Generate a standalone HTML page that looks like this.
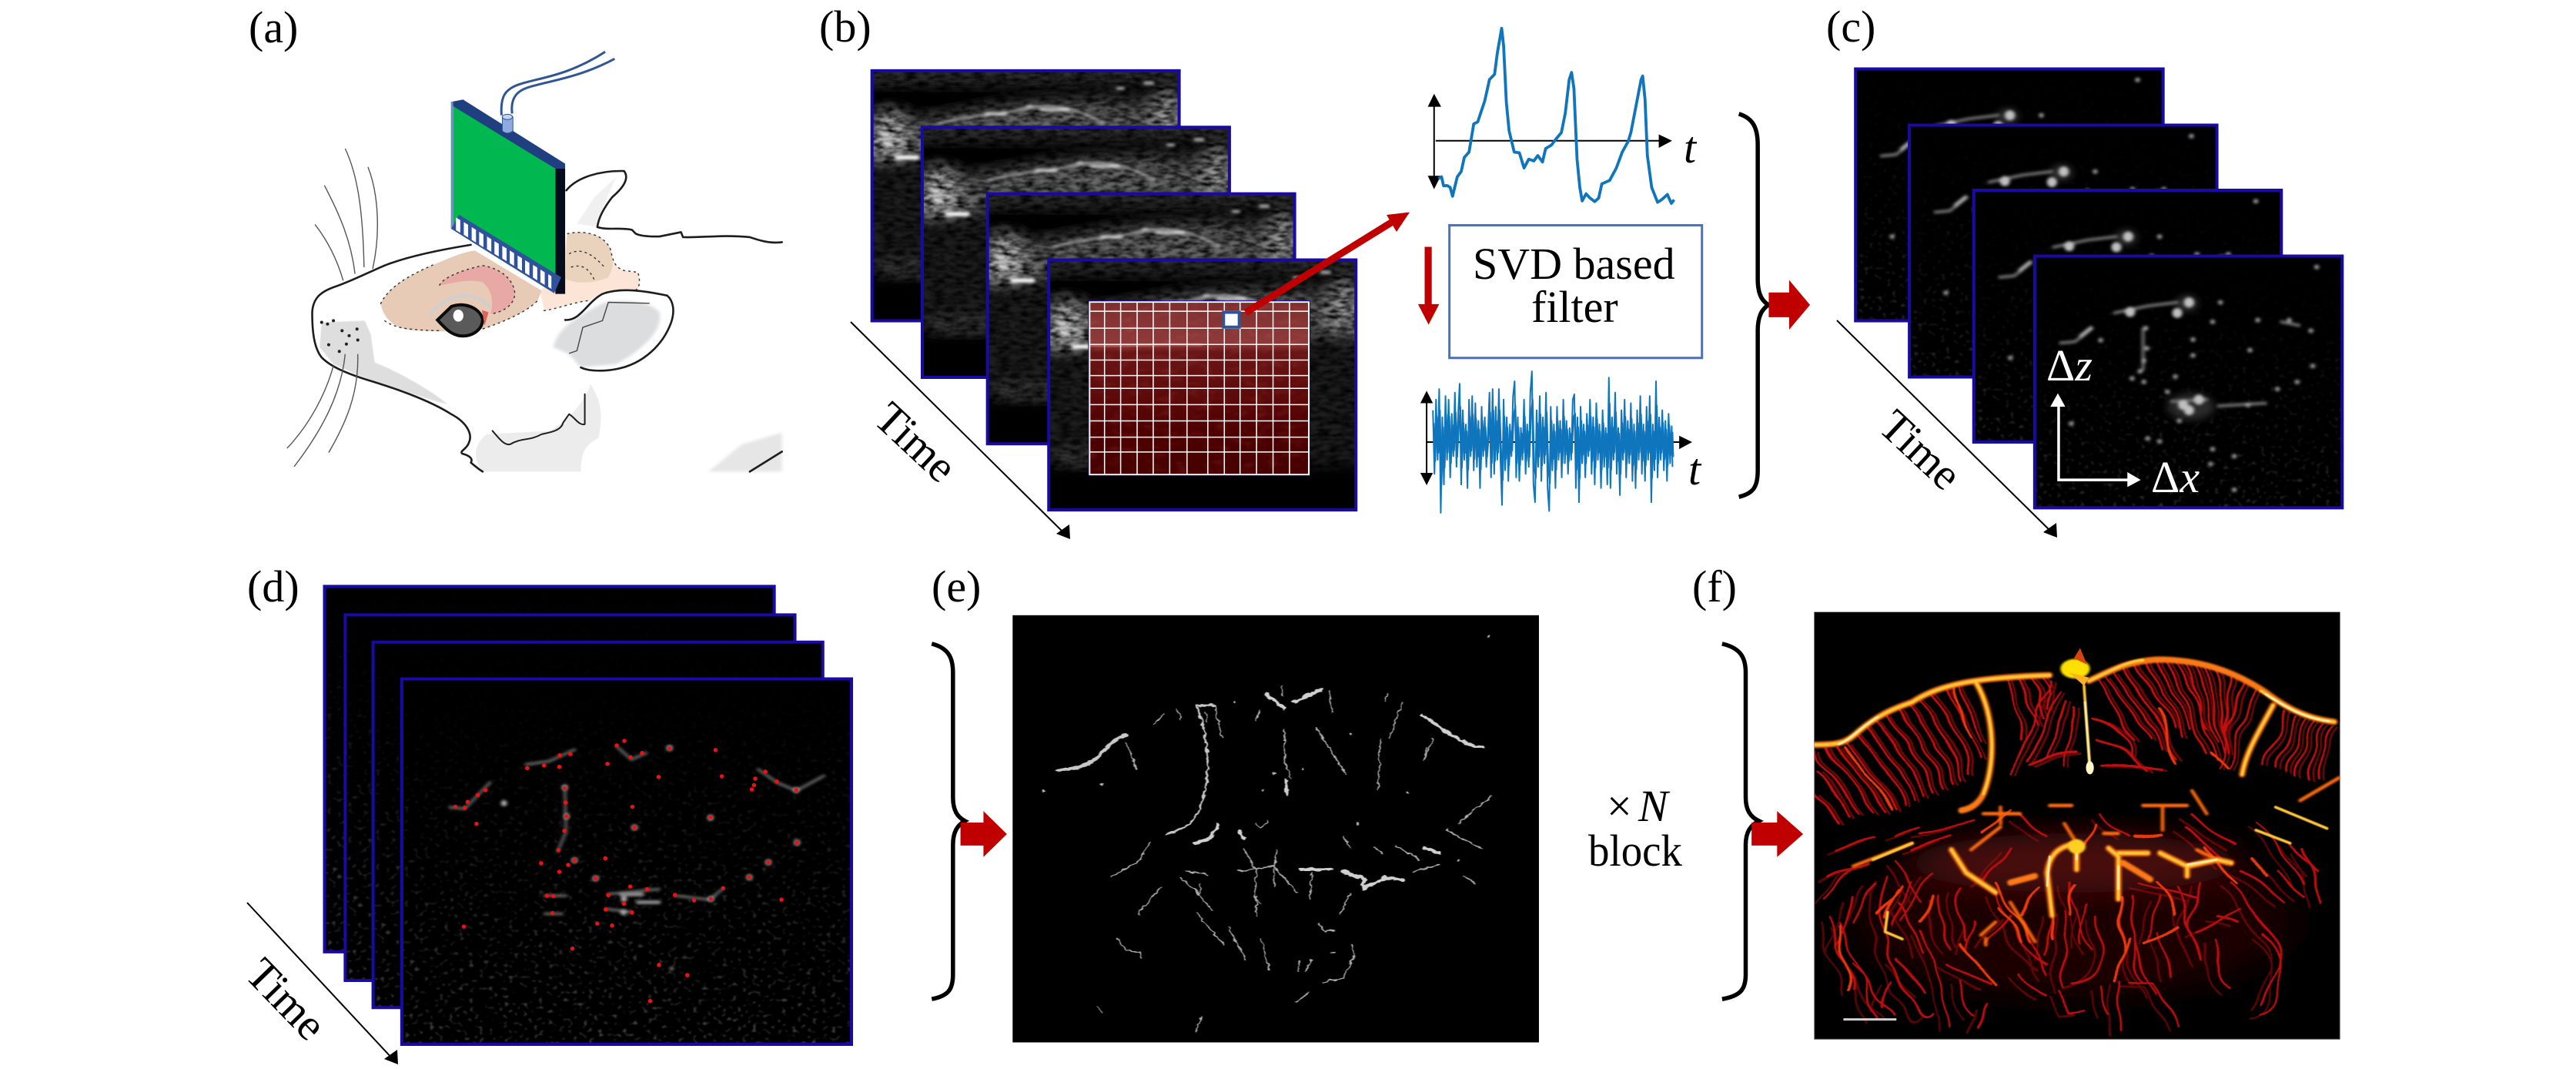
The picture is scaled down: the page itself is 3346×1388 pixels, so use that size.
<!DOCTYPE html>
<html><head><meta charset="utf-8"><title>Ultrasound localization microscopy pipeline</title>
<style>
html,body{margin:0;padding:0;background:#fff}
svg{display:block}
svg *{vector-effect:non-scaling-stroke}
text{font-family:"Liberation Serif",serif;font-size:58px;fill:#000}
.i{font-style:italic}
</style></head><body>
<svg xmlns="http://www.w3.org/2000/svg" width="3346" height="1388" viewBox="0 0 3346 1388">
<defs>
<filter id="b1" x="-5%" y="-5%" width="110%" height="110%"><feGaussianBlur stdDeviation="1.1"/></filter>
<filter id="b2" x="-20%" y="-20%" width="140%" height="140%"><feGaussianBlur stdDeviation="2.5"/></filter>
<filter id="b3" x="-20%" y="-20%" width="140%" height="140%"><feGaussianBlur stdDeviation="4"/></filter>
<filter id="b5" x="-50%" y="-50%" width="200%" height="200%"><feGaussianBlur stdDeviation="11"/></filter>
<filter id="b8" x="-20%" y="-20%" width="140%" height="140%"><feGaussianBlur stdDeviation="20"/></filter>
<filter id="b9" x="-30%" y="-30%" width="160%" height="160%"><feGaussianBlur stdDeviation="45"/></filter>
<filter id="n1" color-interpolation-filters="sRGB" x="0" y="0" width="100%" height="100%"><feTurbulence type="fractalNoise" baseFrequency=".035 .09" numOctaves="3" seed="4"/><feColorMatrix values="0 0 0 0 0 0 0 0 0 0 0 0 0 0 0 2 0 0 0 -.65"/><feGaussianBlur stdDeviation="1.5"/></filter>
<filter id="n2" color-interpolation-filters="sRGB" x="0" y="0" width="100%" height="100%"><feTurbulence type="fractalNoise" baseFrequency=".03 .05" numOctaves="3" seed="11"/><feColorMatrix values="0 0 0 0 1 0 0 0 0 .5 0 0 0 0 .5 3 0 0 0 -1.5"/><feGaussianBlur stdDeviation="2"/></filter>
<filter id="s1" color-interpolation-filters="sRGB" x="0" y="0" width="100%" height="100%"><feTurbulence type="fractalNoise" baseFrequency=".085" numOctaves="1" seed="7"/><feColorMatrix values="0 0 0 0 .8 0 0 0 0 .8 0 0 0 0 .8 5 0 0 0 -2.9"/><feGaussianBlur stdDeviation="1"/></filter>
<filter id="wob" color-interpolation-filters="sRGB" x="-5%" y="-5%" width="110%" height="110%"><feTurbulence type="fractalNoise" baseFrequency=".012" numOctaves="1" seed="3"/><feDisplacementMap in="SourceGraphic" scale="36" xChannelSelector="R" yChannelSelector="G"/><feGaussianBlur stdDeviation=".8"/></filter>
<filter id="wob2" color-interpolation-filters="sRGB" x="-5%" y="-5%" width="110%" height="110%"><feTurbulence type="fractalNoise" baseFrequency=".07" numOctaves="2" seed="9"/><feDisplacementMap in="SourceGraphic" scale="12" xChannelSelector="R" yChannelSelector="G"/><feGaussianBlur stdDeviation=".9"/></filter>
<linearGradient id="fade" x1="0" y1="0" x2="0" y2="1"><stop offset="0" stop-color="#000"/><stop offset=".3" stop-color="#000" stop-opacity=".96"/><stop offset=".7" stop-color="#000" stop-opacity=".88"/><stop offset="1" stop-color="#000" stop-opacity=".8"/></linearGradient>
<linearGradient id="fade2" x1="0" y1="0" x2="0" y2="1"><stop offset="0" stop-color="#000"/><stop offset=".22" stop-color="#000" stop-opacity=".94"/><stop offset=".6" stop-color="#000" stop-opacity=".82"/><stop offset="1" stop-color="#000" stop-opacity=".68"/></linearGradient>
<linearGradient id="rg" x1="0" y1="0" x2="0" y2="1"><stop offset="0" stop-color="#7e2e2e"/><stop offset=".24" stop-color="#8e3a3a"/><stop offset=".29" stop-color="#6a1616"/><stop offset=".5" stop-color="#600c0c"/><stop offset=".75" stop-color="#4e0000"/><stop offset="1" stop-color="#460000"/></linearGradient>
<clipPath id="cb"><rect width="782" height="707"/></clipPath>

<g id="bf">
<g clip-path="url(#cb)">
<rect width="782" height="707" fill="#1e1e1e"/>
<g filter="url(#b8)">
<rect x="-40" y="-40" width="860" height="70" fill="#303030"/>
<path d="M-40,40H820V62L700,80L600,74L450,78L300,102L170,122L60,128L-40,120Z" fill="#000"/>
<path d="M-40,140L60,150L170,138L300,112L450,96L600,92L700,100L820,80V225L700,215L500,205L300,215L150,240L-40,262Z" fill="#686868"/>
<ellipse cx="45" cy="190" rx="52" ry="70" fill="#b4b4b4"/>
<ellipse cx="750" cy="130" rx="30" ry="70" fill="#a0a0a0"/>
<rect x="-40" y="585" width="860" height="170" fill="#000"/>
<rect x="20" y="545" width="150" height="14" fill="#707070"/>
</g>
<rect width="782" height="707" fill="#000" filter="url(#n1)"/>
<g filter="url(#b3)" fill="none" stroke-linecap="round">
<path d="M170,150C240,125 330,125 400,105C460,90 520,105 590,150" stroke="#aaa" stroke-width="2.6"/>
<path d="M290,122H340M430,110H500" stroke="#ddd" stroke-width="3.5"/>
<path d="M65,245H115" stroke="#f2f2f2" stroke-width="6"/>
<path d="M25,180H42M32,205H48" stroke="#ddd" stroke-width="5"/>
<path d="M695,35H715M625,50H640M395,100H408" stroke="#bbb" stroke-width="3.5"/>
</g>
</g>
<rect width="782" height="707" fill="none" stroke="#1a0aa4" stroke-width="4"/>
</g>

<g id="cf">
<rect x="672" y="724" width="783" height="712" fill="#000"/>
<rect x="672" y="724" width="783" height="712" filter="url(#s1)"/>
<rect x="672" y="724" width="783" height="712" fill="url(#fade)"/>
<ellipse cx="1070" cy="1150" rx="60" ry="38" fill="#2a2a2a" filter="url(#b5)"/>
<ellipse cx="1060" cy="858" rx="26" ry="20" fill="#3a3a3a" filter="url(#b5)"/>
<g filter="url(#b3)" fill="none" stroke-linecap="round">
<path d="M738,970L775,966L818,928M875,885L960,865L1035,855M1140,1148L1260,1140M1300,910L1345,920M948,930V1045M1020,1135L1110,1130" stroke="#707070" stroke-width="4"/>
<path d="M790,950L815,928" stroke="#aaa" stroke-width="5"/>
<path d="M915,882h.1M1035,885h.1M1065,855h.1M1050,1145h.1M1065,1160h.1M1090,1130h.1" stroke="#c0c0c0" stroke-width="13"/>
<path d="M1145,855h.1M840,962h.1M955,928h.1M958,985h.1M950,1020h.1M940,1050h.1M950,1080h.1M1010,1108h.1M1040,1190h.1M1215,1145h.1M1220,990h.1M1075,960h.1M1075,1005h.1M1240,905h.1M1320,905h.1M1375,935h.1M1380,1035h.1M1290,1100h.1M765,1198h.1M960,1240h.1M990,1248h.1M1125,1270h.1M1180,1290h.1M1120,1312h.1M1180,1385h.1M1125,910h.1M1340,1080h.1M1030,1065h.1M920,1070h.1M1390,755h.1" stroke="#a8a8a8" stroke-width="6"/>
</g>
<rect x="672" y="724" width="783" height="712" fill="none" stroke="#1a0aa4" stroke-width="4"/>
</g>

<g id="df">
<rect x="441" y="379" width="1065" height="1114" fill="#000"/>
<rect x="441" y="379" width="1065" height="1114" filter="url(#s1)"/>
<rect x="441" y="379" width="1065" height="1114" fill="url(#fade2)"/>
<rect x="441" y="379" width="1065" height="1114" fill="none" stroke="#1a0aa4" stroke-width="4"/>
</g>

<g id="ar"><path d="M0,0H52V-35L105,35L52,105V70H0Z" fill="#c00000"/></g>
<path id="br" d="M0,0C38,13 48,43 48,88V468C48,508 58,528 75,540C58,553 48,573 48,613V1008C48,1053 38,1073 0,1083" fill="none" stroke="#000" stroke-width="5.5"/>
</defs>

<rect width="3346" height="1388" fill="#fff"/>

<!-- labels -->
<text x="323" y="55">(a)</text>
<text x="1064" y="54">(b)</text>
<text x="2372" y="54">(c)</text>
<text x="321" y="781">(d)</text>
<text x="1210" y="781">(e)</text>
<text x="2198" y="781">(f)</text>

<!-- panel a -->
<g transform="translate(280,0) scale(.5102,.4337)">
<path d="M1255,1412L1340,1330L1442,1295V1412Z" fill="#e6e6e6" filter="url(#b3)"/>
<path d="M680,1412C660,1380 650,1340 690,1300L850,1290C900,1260 940,1200 955,1150C975,1190 990,1230 975,1310C950,1330 930,1340 930,1412Z" fill="#ececec"/>
<path d="M270,965L380,960L395,1000L405,1085C450,1105 540,1160 590,1210C540,1195 450,1160 365,1125L300,1090L265,1040Z" fill="#dedede" filter="url(#b1)"/>
<path d="M860,1040C870,990 900,960 990,905C1050,895 1110,905 1130,935C1140,980 1100,1040 1020,1090L930,1100L900,1060Z" fill="#dcdddf" filter="url(#b3)"/>
<path d="M920,670L965,590L1020,530L990,610L970,680Z" fill="#f0f0f0" filter="url(#b1)"/>
<path d="M895,700C930,690 985,695 1005,745C1012,780 1015,800 1040,810L1075,815C1082,840 1080,860 1070,868C1020,860 985,875 950,900C910,905 870,925 838,930L825,870L880,830Z" fill="#fce4d6"/>
<path d="M895,700C930,690 985,695 1005,745C1012,780 1015,800 1000,830C960,850 920,850 890,835Z" fill="#e9d3bd"/>
<path d="M420,910C440,860 490,825 560,790C600,770 630,755 660,750L830,870L820,900C790,935 740,960 680,985C630,992 570,995 500,988C460,985 430,960 420,910Z" fill="#e8cbb6"/>
<path d="M570,855C575,835 620,810 680,795C730,805 760,840 762,880C760,915 730,935 700,940C708,905 705,870 680,845C650,835 610,845 570,855Z" fill="#e8a9a6"/>
<path d="M570,855C575,835 620,810 680,795C730,805 760,840 762,880C760,915 730,935 700,940M420,910C440,860 490,825 560,790M430,960C460,985 500,988 570,990M680,985C740,960 790,935 820,900M835,930C870,925 910,905 950,900M895,700C930,690 985,695 1005,745C1012,780 1015,800 1040,810L1075,815C1082,840 1080,860 1070,868M900,760C930,740 960,760 990,800M905,800C930,790 950,800 965,840" fill="none" stroke="#333" stroke-width="1.4" stroke-dasharray="3 4"/>
<path d="M545,945C590,870 660,870 700,920" fill="none" stroke="#cfcfcf" stroke-width="4"/>
<path d="M565,958L600,918C625,905 670,915 680,955C680,990 650,1010 620,1005C600,1000 590,990 565,958Z" fill="#5a5a5a" stroke="#0b0b0b" stroke-width="4"/>
<ellipse cx="618" cy="945" rx="13" ry="18" fill="#fff"/>
<path d="M678,928L695,935L685,975Z" fill="#d9655f"/>
<g fill="none" stroke="#1d1d1d" stroke-width="2.6" stroke-linejoin="round" stroke-linecap="round">
<path d="M893,570C920,530 980,510 1040,512C1055,535 1035,565 1010,590C990,620 975,650 972,680C1000,690 1030,680 1060,688L1070,700C1090,710 1120,708 1130,708L1185,695L1190,710C1240,712 1290,702 1360,710C1380,718 1410,730 1442,725"/>
<path d="M650,733C560,750 480,772 430,795C390,815 340,845 300,860C265,875 248,895 246,935C246,990 250,1040 270,1070C295,1100 340,1120 380,1135C450,1160 540,1195 600,1240C640,1265 655,1300 645,1325C640,1345 620,1350 628,1358C650,1365 655,1375 650,1385C660,1395 670,1405 680,1412"/>
<path d="M890,958C930,960 945,905 985,880C1030,860 1090,870 1150,885C1165,900 1170,930 1160,965C1140,1030 1090,1090 1020,1105C990,1112 950,1112 930,1100"/>
<path d="M705,1290C720,1310 735,1335 750,1330C780,1310 800,1320 830,1300C850,1295 880,1290 885,1265L900,1240C915,1250 925,1275 940,1270L940,1180" stroke-width="2"/>
<path d="M1360,1412L1442,1352"/>
</g>
<path d="M1105,908L1000,905L985,960L935,980L920,1050L900,1058" fill="none" stroke="#444" stroke-width="1.4"/>
<path d="M270,965h.1M285,970h.1M300,960h.1M322,990h.1M340,1005h.1M360,985h.1M288,1032h.1M333,1030h.1M362,1018h.1M315,1052h.1" stroke="#222" stroke-width="4" stroke-linecap="round"/>
<g fill="none" stroke="#555" stroke-width="1.4">
<path d="M330,445C360,520 375,620 378,800"/><path d="M388,500C415,580 420,700 400,805"/><path d="M277,555C315,640 345,720 355,820"/><path d="M253,672C285,720 310,780 325,840"/>
<path d="M300,1095C280,1180 240,1270 182,1342"/><path d="M330,1060C320,1180 270,1290 200,1397"/><path d="M362,1060C365,1180 330,1270 288,1355"/>
</g>
<path d="M728,345C725,290 735,265 780,250C830,232 900,225 992,155M755,340C750,290 770,270 800,260C860,240 930,230 1016,176" fill="none" stroke="#2f5597" stroke-width="3"/>
<path d="M605,315L865,505V870L605,675Z" fill="#00b750"/>
<path d="M600,305L630,298L890,490V505H865L605,318Z" fill="#1f3f80"/>
<path d="M865,505H890V880H865Z" fill="#050c1c"/>
<path d="M602,305V685" stroke="#6f8fc0" stroke-width="3"/>
<path d="M620,643L880,830L862,878L600,685Z" fill="#2f529a"/>
<path d="M612,651v38l11,8v-38zM632,665v38l11,8v-38zM652,680v38l11,8v-38zM671,694v38l11,8v-38zM691,708v38l11,8v-38zM710,722v38l11,8v-38zM730,736v38l11,8v-38zM749,750v38l11,8v-38zM769,765v38l11,8v-38zM788,779v38l11,8v-38zM808,793v38l11,8v-38zM827,807v38l11,8v-38zM847,821v38l8,6v-38z" fill="#fff"/>
<path d="M730,350H757V392Q743,405 730,392Z" fill="#8faadc" stroke="#2f5597" stroke-width="1"/>
<ellipse cx="743" cy="350" rx="13" ry="8" fill="#c5d3ec" stroke="#2f5597" stroke-width="1"/>
</g>

<!-- panel b frames -->
<g transform="translate(1000,0) scale(.5102,.4592)">
<use href="#bf" x="260" y="200"/>
<use href="#bf" x="388" y="360"/>
<use href="#bf" x="554" y="548"/>
<use href="#bf" x="710" y="735"/>
<rect x="814" y="854" width="558" height="488" fill="url(#rg)"/>
<rect x="814" y="854" width="558" height="488" filter="url(#n2)" opacity=".1"/>
<path d="M814,978C900,985 1000,965 1100,975" stroke="#d88080" stroke-width="4" fill="none" filter="url(#b3)" opacity=".7"/>
<path d="M852,854V1342M893,854V1342M935,854V1342M976,854V1342M1018,854V1342M1062,854V1342M1115,854V1342M1157,854V1342M1197,854V1342M1239,854V1342M1281,854V1342M1323,854V1342M814,880H1372M814,928H1372M814,974H1372M814,1018H1372M814,1062H1372M814,1098H1372M814,1144H1372M814,1190H1372M814,1236H1372M814,1278H1372" stroke="#fff" stroke-width="1.5" fill="none"/>
<rect x="814" y="854" width="558" height="488" fill="none" stroke="#fff" stroke-width="2"/>
<rect x="811" y="851" width="564" height="494" fill="none" stroke="#1a0aa4" stroke-width="1"/>
<rect x="1155" y="883" width="40" height="42" fill="#fff" stroke="#2f5597" stroke-width="4"/>
</g>
<path d="M1618,406L1807,289" stroke="#c00000" stroke-width="9"/>
<path d="M1831,275.5L1801,279L1814,301Z" fill="#c00000"/>
<path d="M1105,418L1385,695" stroke="#000" stroke-width="2"/>
<path d="M1390,700L1372,693L1389,681Z" fill="#000"/>
<text transform="translate(1186,578) rotate(43)" y="14" text-anchor="middle">Time</text>

<!-- signals -->
<g transform="translate(1750,0) scale(.5102,.4592)">
<path d="M221,290V510M225,398H795M202,1130V1345M202,1250H850" stroke="#000" stroke-width="2" fill="none"/>
<path d="M205,302H239L221,265ZM205,497H238L221,535ZM793,380V418L827,398ZM186,1140H218L202,1105ZM186,1337H218L202,1372ZM845,1232V1270L878,1250Z" fill="#000"/>
<polyline fill="none" stroke="#0f75bc" stroke-width="3.8" stroke-linejoin="round" points="232,505 240,500 245,525 255,525 262,530 268,555 280,500 290,485 298,445 310,430 322,350 332,345 350,285 362,225 375,210 382,150 393,80 398,130 405,290 412,370 425,430 438,432 450,475 462,450 475,455 485,440 497,458 505,420 520,410 530,395 545,375 555,320 565,225 571,205 577,250 585,450 592,530 598,568 608,548 618,560 630,570 640,560 648,520 668,510 685,475 700,430 715,400 722,375 735,300 748,225 752,215 758,280 764,440 775,530 790,572 800,565 815,550 825,575 832,565"/>
<polyline id="nz" fill="none" stroke="#0f75bc" stroke-width="2" stroke-linejoin="round" points="218,1160 222,1340 226,1130 230,1300 234,1100 238,1450 242,1180 246,1370 250,1120 254,1300 258,1130 262,1350 266,1170 270,1290 274,1110 278,1320 282,1180 286,1085 290,1370 294,1160 298,1300 302,1200 306,1380 310,1130 314,1290 318,1120 322,1330 326,1140 330,1320 334,1190 338,1380 342,1150 346,1290 350,1180 354,1320 358,1230 362,1110 366,1350 370,1100 374,1340 378,1150 382,1300 386,1100 390,1300 394,1428 398,1130 402,1330 406,1180 410,1360 414,1200 418,1290 422,1120 426,1078 430,1350 434,1180 438,1360 442,1210 446,1300 450,1130 454,1340 458,1200 462,1320 466,1110 470,1050 474,1370 478,1420 482,1160 486,1320 490,1120 494,1360 498,1180 502,1310 506,1110 510,1380 514,1445 518,1150 522,1330 526,1200 530,1380 534,1150 538,1300 542,1190 546,1350 550,1130 554,1310 558,1190 562,1340 566,1210 570,1300 574,1130 578,1115 582,1380 586,1180 590,1420 594,1150 598,1310 602,1200 606,1350 610,1170 614,1290 618,1130 622,1340 626,1180 630,1370 634,1140 638,1300 642,1200 646,1380 650,1160 654,1320 658,1210 662,1370 666,1068 670,1380 674,1180 678,1300 682,1110 686,1340 690,1210 694,1400 698,1160 702,1300 706,1130 710,1350 714,1190 718,1310 722,1140 726,1360 730,1200 734,1380 738,1160 742,1300 746,1120 750,1340 754,1200 758,1360 762,1150 766,1300 770,1120 774,1420 778,1200 782,1330 786,1078 790,1350 794,1180 798,1300 802,1160 806,1330 810,1190 814,1360 818,1170 822,1310 826,1205 828,1320"/>
<use href="#nz" transform="translate(2,500) scale(1,.6)"/>
<rect x="260" y="637" width="643" height="375" fill="#fff" stroke="#4472c4" stroke-width="3"/>
<path d="M197,698H215V860H234L207,918L180,860H197Z" fill="#c00000"/>
<use href="#br" x="997" y="322"/>
<use href="#ar" x="1073" y="827"/>
</g>
<text x="1913" y="362">SVD based</text>
<text x="1989" y="418">filter</text>
<text x="2187" y="211" class="i">t</text>
<text x="2193" y="629" class="i">t</text>

<!-- panel c -->
<g transform="translate(2300,0) scale(.5102,.4592)">
<use href="#cf" x="-456" y="-529"/>
<use href="#cf" x="-319" y="-370"/>
<use href="#cf" x="-155" y="-186"/>
<use href="#cf"/>
<path d="M733,1150V1357H912" fill="none" stroke="#fff" stroke-width="3.5"/>
<path d="M712,1150H750L731,1112ZM908,1335V1377L942,1357Z" fill="#fff"/>
</g>
<path d="M2386,416L2667,693" stroke="#000" stroke-width="2"/>
<path d="M2672,698L2654,691L2671,679Z" fill="#000"/>
<text transform="translate(2491,588) rotate(43)" y="14" text-anchor="middle">Time</text>
<text x="2658" y="494" style="fill:#fff">Δ<tspan class="i" style="fill:#fff">z</tspan></text>
<text x="2794" y="639" style="fill:#fff">Δ<tspan class="i" style="fill:#fff">x</tspan></text>

<!-- panel d -->
<g transform="translate(280,720) scale(.5485,.426)">
<use href="#df" x="-183" y="-282"/>
<use href="#df" x="-134" y="-195"/>
<use href="#df" x="-68" y="-112"/>
<use href="#df"/>
<g filter="url(#b3)" fill="none" stroke-linecap="round">
<path d="M555,770L590,775L620,735L650,695M735,640L790,630L850,595M950,585L985,625L1020,605M1285,655L1330,695L1375,720L1440,675M827,710L830,845L810,905M930,1035L1050,1020M1090,1040L1170,1052L1200,1020M925,1080L985,1090M780,1040H830M780,1095H820" stroke="#5a5a5a" stroke-width="4"/>
<path d="M827,710h.1M831,798h.1M992,832h.1M1172,802h.1M1377,878h.1M1309,938h.1M1264,984h.1M900,987h.1M967,1050h.1M1173,1050h.1M683,758h.1M850,932h.1M966,1090h.1M1375,718h.1M1075,590h.1" stroke="#a8a8a8" stroke-width="8"/>
<path d="M960,1036H1010M1000,1060H1050M1080,1262h.1" stroke="#8a8a8a" stroke-width="5"/>
</g>
<path d="M738,651h.1M778,643h.1M815,612h.1M840,608h.1M814,647h.1M950,582h.1M968,568h.1M983,618h.1M1010,605h.1M928,638h.1M1075,591h.1M1184,596h.1M1049,678h.1M1199,676h.1M1278,683h.1M1302,662h.1M1329,692h.1M1375,718h.1M1275,703h.1M1270,716h.1M639,718h.1M621,733h.1M597,754h.1M568,769h.1M590,772h.1M618,821h.1M827,712h.1M829,756h.1M831,798h.1M826,842h.1M987,769h.1M992,832h.1M1172,801h.1M1377,878h.1M812,901h.1M850,932h.1M835,946h.1M771,941h.1M814,967h.1M923,926h.1M900,987h.1M1309,938h.1M1264,984h.1M982,1012h.1M1022,1020h.1M1088,1038h.1M1133,1054h.1M1173,1050h.1M1202,1017h.1M1340,1052h.1M930,1038h.1M785,1040h.1M800,1041h.1M967,1064h.1M924,1082h.1M986,1091h.1M798,1093h.1M904,1125h.1M939,1131h.1M588,1134h.1M845,1201h.1M1050,1251h.1M1117,1282h.1M1029,1361h.1" stroke="#f01010" stroke-width="5.5" stroke-linecap="round" fill="none"/>
</g>
<path d="M321,1172L512,1377" stroke="#000" stroke-width="2"/>
<path d="M517,1382L499,1375L516,1363Z" fill="#000"/>
<text transform="translate(368,1301) rotate(46)" y="14" text-anchor="middle">Time</text>

<!-- panel e -->
<g transform="translate(1150,720) scale(.574,.426)">
<use href="#br" x="105" y="272"/>
<use href="#ar" x="170" y="817"/>
<rect x="288" y="185" width="1191" height="1302" fill="#000"/>
<g fill="none" stroke="#b0b0b0" stroke-width="1.7" stroke-linecap="round" stroke-linejoin="round" filter="url(#wob2)">
<path d="M545,575L568,655M605,518L632,485M660,470L668,502M745,460L762,560M725,480L728,510M838,505L848,475M898,400V430M1005,415L1012,480M1135,425L1132,445M1170,450L1140,560M1120,560L1115,715M903,535V630L918,680M975,530L1042,670M1240,560L1220,620M1225,590L1218,625M1370,735L1298,818M1270,840L1350,897M1155,888L1210,930M1195,965L1255,945M510,982L575,935L598,878M838,822L850,832L866,812M810,895L840,965L835,1040L850,1065M840,1100V1040M885,900L880,965V1010M800,965L880,950L930,1030M965,970L960,1050M1035,860L1055,895M1105,890L1125,912M680,965L730,975M668,985L700,1020L740,1085M712,1005V1040M625,1015L575,1085V1098M705,1095L765,1190M775,1135L815,1235M850,1170L870,1265M525,1170L545,1205L575,1212L578,1230M1050,1035L1030,1095M980,1125L995,1150L1015,1145M1055,1190L1062,1220L1035,1290L990,1305M1005,1213H1020M965,1235L950,1270M935,1240V1270M958,1335L930,1365M480,1380L490,1397M715,1410L703,1455M1310,980L1335,1003"/>
<path d="M705,460C730,560 740,660 715,760C700,820 680,830 635,855M705,460H745" stroke-width="2.6" stroke="#c8c8c8"/>
<path d="M390,657C440,655 470,635 490,605S520,560 545,550" stroke-width="5" stroke="#c8c8c8"/>
<path d="M1215,490L1270,540L1320,580L1352,588M860,425L905,470M925,450L985,412M908,690V730M700,880L735,865L752,825M800,845L812,865M940,960H1010M1035,965L1085,990L1080,1020L1130,985L1170,992M1220,895L1255,910" stroke-width="4.2" stroke="#d0d0d0"/>
<path d="M488,700h.1M358,720h.1M1365,248h.1M1052,547h.1M946,655h.1M855,718h.1M1182,725h.1M1070,822h.1M1297,933h.1M880,668h.1M790,450h.1" stroke-width="3.5"/>
</g>
</g>

<!-- panel f -->
<g transform="translate(2050,720) scale(.6378,.426)">
<use href="#br" x="293" y="272"/>
<use href="#ar" x="353" y="817"/>
<rect x="481" y="176" width="1070" height="1301" fill="#000" stroke="#555" stroke-width="1"/>
<clipPath id="cf6"><rect x="481" y="176" width="1070" height="1301"/></clipPath>
<g clip-path="url(#cf6)" fill="none" stroke-linecap="round" stroke-linejoin="round">
<ellipse cx="1010" cy="1120" rx="440" ry="230" fill="#1e0202" filter="url(#b9)"/>
<ellipse cx="1010" cy="940" rx="340" ry="90" fill="#4a0808" filter="url(#b9)"/>
<!-- red radial and deep vessels -->
<g filter="url(#wob)">
<g id="rc" stroke="#c01010" stroke-width="2.8">
<path d="M485,600Q520,700 570,790M490,660Q520,730 550,800M485,730L530,820M505,592Q560,700 600,785M525,590Q580,690 625,780M545,578Q600,680 650,770M565,545Q630,650 670,760M585,525Q650,630 690,750M605,508Q670,610 710,740M625,490Q690,600 730,730M650,470Q710,590 750,715M672,455Q730,570 770,700M695,435Q750,550 785,690M720,415Q770,530 800,670M745,400Q790,500 815,620M770,390Q805,480 822,570M870,378Q900,470 905,560M895,375Q925,450 935,520M920,372Q945,430 950,500M945,372Q960,420 960,470M960,385Q930,520 880,670M980,420Q950,530 915,630M995,450Q975,540 950,620M1010,470Q1000,560 990,640"/>
<path d="M1060,380Q1095,480 1130,570M1075,368Q1120,460 1165,560M1095,355Q1145,470 1195,590M1115,342Q1170,480 1222,625M1135,332Q1180,440 1215,530M1155,325Q1200,440 1235,560M1175,322Q1215,430 1250,540M1195,322Q1240,440 1270,600M1215,322Q1255,430 1285,540M1235,325Q1270,460 1292,620M1255,330Q1285,440 1300,570M1275,338Q1300,440 1310,600M1300,350Q1315,450 1320,580M1325,368Q1325,470 1320,600M1350,385Q1335,500 1300,650M1375,410Q1350,530 1325,650M1440,480Q1420,560 1400,640M1460,495Q1440,570 1425,650M1480,505Q1460,580 1445,660M1500,510Q1480,590 1460,670M1520,518Q1500,600 1485,680M1540,525Q1520,600 1505,680M1045,500C1090,510 1120,540 1130,620M920,640C960,610 990,600 1020,595M1060,560Q1120,600 1160,660M1070,640Q1130,640 1190,660"/>
</g>
<use href="#rc" transform="translate(9,4)" opacity=".55"/>
<g id="rl" stroke="#b80e0e" stroke-width="2.8">
<path d="M510,985Q550,960 590,940M500,1050Q530,1000 560,960M510,1100Q530,1220 560,1320M530,1120Q560,1220 580,1300T605,1410M560,1050Q540,1120 530,1200M600,1000Q580,1060 560,1120M620,980Q600,1100 650,1280T720,1400M680,1000Q660,1060 640,1120M720,970Q690,1040 660,1110M700,1150Q720,1240 740,1340T760,1440M650,1060Q690,1120 700,1220M740,1040Q720,1120 760,1200M780,1020Q760,1100 790,1180M850,1030Q870,1100 890,1160T960,1250M800,1120Q800,1160 790,1200M880,1100Q850,1140 830,1180M900,1120Q930,1200 960,1280M960,1100Q960,1160 950,1220M990,1090V1320M1040,1060Q1030,1120 1020,1180M1060,1100Q1070,1180 1060,1240T1010,1310M1120,1040Q1130,1120 1130,1200T1150,1300M1180,1050Q1170,1120 1160,1180M1220,1020Q1240,1090 1250,1150M1270,1000Q1260,1050 1250,1100T1270,1240M1330,1000Q1380,1090 1410,1150T1430,1300T1380,1400M1350,1080Q1300,1120 1260,1150M1400,1160Q1420,1200 1430,1230T1380,1370M750,1250Q800,1280 840,1310M650,1230Q680,1290 700,1340M840,1370L815,1440M980,1330Q990,1370 1000,1400L1030,1390M1060,1320Q1070,1360 1080,1400M1120,1300H1170Q1200,1370 1220,1440M1420,960Q1450,1000 1480,1040M1450,880Q1480,920 1500,960M1380,820Q1440,910 1480,1000M530,900Q570,875 600,860M640,860Q670,845 700,830M1240,830Q1280,890 1320,940M1100,1300Q1100,1380 1105,1450M1300,1100L1350,1120M640,1300L620,1380M900,1280Q920,1320 950,1340M780,1300Q790,1360 810,1400M1180,1150Q1200,1220 1210,1280M1290,1180Q1300,1260 1330,1320M1000,1000Q1020,1100 1040,1200M1130,1180Q1140,1260 1180,1340M560,1250Q590,1320 640,1400"/>
<path d="M900,800Q930,840 960,860M1060,790Q1080,830 1120,860M1250,790Q1290,850 1340,890M700,850Q750,840 800,810M680,900Q720,880 760,860M880,900Q860,960 820,1000M1140,1000Q1200,1040 1260,1050M1350,960Q1400,1000 1440,1060M640,940Q680,1000 700,1060M1480,900Q1500,980 1510,1060"/>
</g>
<use href="#rl" transform="translate(-20,14)" opacity=".45"/>
<path stroke="#e8390f" stroke-width="3.4" d="M540,590L640,770M760,395L800,560M1180,470L1220,640M1280,600L1320,650M820,850L880,780M1050,820L1030,900M1190,850L1130,860M850,1000L920,1180M960,1100L965,1170M1100,1040L1110,1220L1090,1300M1400,980L1370,930M1280,900L1340,1000M660,1010L610,1090M780,1190L850,1315M530,1130L550,1320M1150,1190L1230,1130M650,1020Q630,1060 625,1100M860,1080Q880,1120 900,1180M1120,1180L1100,1260M730,1040L700,1120M1010,1010L1000,1100M940,1020L900,1100M1180,1000L1220,1100"/>
</g>
<!-- cover above the cortical surface and dark band -->
<path d="M481,176H1551V512L1540,510C1480,500 1440,465 1400,420C1330,350 1260,320 1180,320C1120,325 1090,350 1040,385L1000,370L960,368C800,375 730,400 680,450C640,470 610,490 570,540C545,575 530,580 481,580Z" fill="#000"/>
<path d="M830,700H1440L1400,760L1120,750L1000,770L860,770Z" fill="#000" opacity=".9" filter="url(#b5)"/>
<!-- orange -->
<g stroke="#ff6a10" stroke-width="4.5" filter="url(#b2)">
<path d="M800,900L860,830M860,770V820M825,790H900M1190,770V840M1150,765H1240M960,765H1005M1250,720L1280,790M990,820L1015,880M1070,850H1100M820,1160L850,1120M830,1170V1190M880,1060L930,1180M1260,900L1300,930M1470,750L1550,680M560,950L680,880"/>
</g>
<!-- yellow/bright -->
<g stroke="#ff7a18" stroke-width="8" filter="url(#b2)">
<path d="M481,580C530,580 545,575 570,540C610,490 640,470 680,450C730,400 800,375 960,368M1040,385C1090,350 1120,325 1180,320C1260,320 1330,350 1400,420C1440,465 1480,500 1540,510M810,390C850,490 850,640 825,730C815,760 800,775 780,780M1415,460C1390,530 1360,600 1352,670M760,900L790,970L850,1030M1015,880C980,890 960,910 955,970L965,1100M1015,880V960M1080,895L1100,920V1050M1100,910H1160M1185,910L1240,950L1300,930L1330,940M1240,950V980M1110,940L1165,990M930,980L880,1000"/>
</g>
<g stroke="#ffc838" stroke-width="3.6" filter="url(#b1)">
<path d="M481,580C530,580 545,575 570,540C610,490 640,470 680,450C730,400 800,375 960,368M1040,385C1090,350 1120,325 1150,322M1390,415C1440,465 1480,500 1540,510M810,390C850,490 850,640 825,730M1415,460C1390,530 1360,600 1352,670M1030,400L1042,650M760,900L790,970L850,1030M1015,880C980,890 960,910 955,970L965,1100M1015,880V960M1080,895L1100,920V1050M1100,910H1160M1185,910L1240,950L1300,930L1330,940M1240,950V980M630,1090L625,1150L660,1172M600,930L680,880M1420,770L1525,835M1380,840L1450,880"/>
</g>
<path stroke="#fff4b8" stroke-width="2.4" filter="url(#b1)" d="M1400,425C1440,465 1480,500 1530,508M530,578C550,570 580,520 610,495M1032,450L1042,650M960,920L955,1010M1015,885V930M1100,950V1020M1240,945L1300,930"/>
</g>
<ellipse cx="1012" cy="348" rx="30" ry="30" fill="#ffe000" filter="url(#b2)"/>
<path d="M1022,285L1036,335L1015,320L1008,320Z" fill="#d8450c"/>
<path d="M1000,360L1030,400L1040,375Z" fill="#ffb020"/>
<ellipse cx="1042" cy="650" rx="8" ry="20" fill="#fff6c8"/>
<ellipse cx="1015" cy="890" rx="18" ry="22" fill="#ffd020" filter="url(#b2)"/>
<path d="M540,1417H648" stroke="#d0d0d0" stroke-width="3"/>
</g>
<text x="2087" y="1066">×</text>
<text x="2128" y="1066" class="i">N</text>
<text x="2063" y="1124" textLength="122" lengthAdjust="spacingAndGlyphs">block</text>
</svg>
</body></html>
